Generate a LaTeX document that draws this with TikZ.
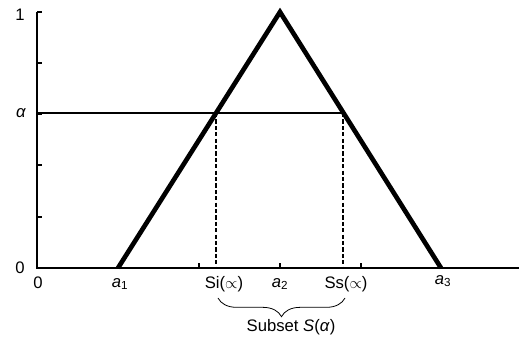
\documentclass[tikz,border=0pt]{standalone}
\usepackage{fontspec}
\setmainfont{Liberation Sans}
\usetikzlibrary{decorations.pathreplacing}
\begin{document}
\begin{tikzpicture}[x=0.75pt,y=-0.75pt,
  lbl/.style={inner sep=0pt,font=\fontsize{12.5}{14}\selectfont},
  axis/.style={line width=1.6pt},
  tri/.style={line width=3.5pt,line join=miter},
  tck/.style={line width=1.1pt},
  dsh/.style={line width=1.3pt,dash pattern=on 3.2pt off 1.6pt},
]
\useasboundingbox (0,0) rectangle (519,342);
% key points
\coordinate (O) at (37,268);
\coordinate (Ytop) at (37,12);
\coordinate (Xend) at (519,268);
\coordinate (A1) at (118,268);
\coordinate (A2) at (280,12);
\coordinate (A3) at (441,268);
\coordinate (Al) at (37,113);
\coordinate (Pi) at (216,113);
\coordinate (Ps) at (343,113);
\coordinate (Bi) at (216,268);
\coordinate (Bs) at (343,268);
% axes
\draw[axis] (Ytop) -- (O) -- (Xend);
% y ticks
\foreach \yy in {12,63,114,165,217}
  \draw[tck] (37,\yy) -- (42,\yy);
% x ticks
\foreach \xx in {199,280,361}
  \draw[tck] (\xx,268) -- (\xx,263);
% alpha line
\draw[line width=1.5pt] (Al) -- (Ps);
% dashed
\draw[dsh] (Pi) -- (Bi);
\draw[dsh] (Ps) -- (Bs);
% triangle
\draw[tri] (A1) -- (A2) -- (A3);
% labels
\node[lbl] (l1) at (20,15) {1};
\node[lbl] (lal) at (21,113) {\itshape α};
\node[lbl] (l0y) at (20,268) {0};
\node[lbl] (l0x) at (38,283) {0};
\node[lbl] (la1) at (120,284) {\textit{a}\textsubscript{1}};
\node[lbl] (lsi) at (224,284) {Si($\propto$)};
\node[lbl] (la2) at (280,284) {\textit{a}\textsubscript{2}};
\node[lbl] (lss) at (346,284) {Ss($\propto$)};
\node[lbl] (la3) at (443,281) {\textit{a}\textsubscript{3}};
% brace
\coordinate (Br) at (345,298);
\coordinate (Bl) at (218,298);
\draw[line width=0.6pt,decorate,decoration={brace,amplitude=14pt}] (Br) -- (Bl);
\node[lbl] (sub) at (291,327) {Subset \textit{S}(\textit{α})};
\end{tikzpicture}
\end{document}
